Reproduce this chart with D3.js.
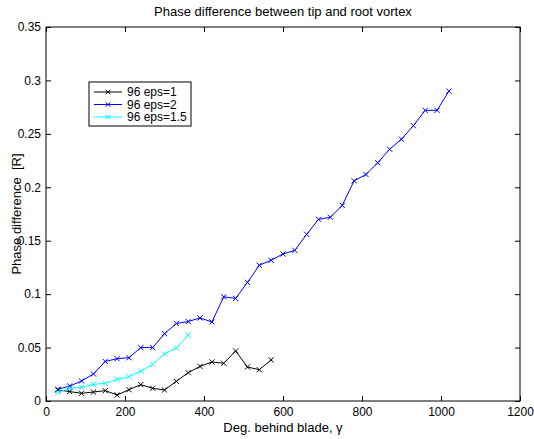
<!DOCTYPE html>
<html>
<head>
<meta charset="utf-8">
<script src="https://cdn.jsdelivr.net/npm/d3@7"></script>
<style>
  body { margin: 0; background: #fff; }
  text { font-family: "Liberation Sans", Arial, sans-serif; }
</style>
</head>
<body>
<script>
const m = {
  width: 534,
  height: 439,
  left: 46,
  right: 520,
  top: 27,
  bottom: 401
}

// x positions (degrees) of each series
const degBlack = [30, 60, 90, 120, 150, 180, 210, 240, 270, 300, 330, 360, 390, 420, 450, 480, 510, 540, 570];
const degBlue = [30, 60, 90, 120, 150, 180, 210, 240, 270, 300, 330, 360, 390, 420, 450, 480, 510,
  540, 570, 600, 630, 660, 690, 720, 750, 780, 810, 840, 870, 900, 930, 960, 990, 1020];
const degCyan = [30, 60, 90, 120, 150, 180, 210, 240, 270, 300, 330, 360];

const eps1 = [0.0103, 0.0088, 0.0072, 0.0084, 0.0097, 0.0056, 0.0106, 0.0153, 0.0119, 0.0103, 0.0184, 0.0265,
  0.0324, 0.0365, 0.0353, 0.0468, 0.0318, 0.0293, 0.0384];
const eps2 = [0.011, 0.014, 0.0187, 0.0253, 0.037, 0.0396, 0.0405, 0.050, 0.050, 0.063, 0.0725, 0.0744,
  0.0777, 0.0740, 0.0975, 0.0960, 0.111, 0.127, 0.1317, 0.1376, 0.141, 0.156, 0.170, 0.172,
  0.183, 0.206, 0.212, 0.223, 0.2356, 0.245, 0.2577, 0.272, 0.272, 0.290];
const eps15 = [0.008, 0.0119, 0.0128, 0.0156, 0.0165, 0.0203, 0.0228, 0.028, 0.0343, 0.044, 0.0496, 0.0618];

const xTicks = [0, 200, 400, 600, 800, 1000, 1200];
const yTicks = [0, 0.05, 0.1, 0.15, 0.2, 0.25, 0.3, 0.35];

const series = [
  { name: "96 eps=1", color: "#000000", x: degBlack, y: eps1 },
  { name: "96 eps=2", color: "#0000ff", x: degBlue, y: eps2 },
  { name: "96 eps=1.5", color: "#00ffff", x: degCyan, y: eps15 }
];

let svg = d3.select("body")
  .append("svg")
  .attr("width", m.width)
  .attr("height", m.height);

let x = d3.scaleLinear().domain([0, 1200]).range([m.left, m.right]);
let y = d3.scaleLinear().domain([0, 0.35]).range([m.bottom, m.top]);

// axes, ticks pointing inward
svg.append("g")
  .attr("transform", `translate(0,${m.bottom})`)
  .call(d3.axisBottom(x).tickValues(xTicks).tickSizeInner(-5).tickSizeOuter(0).tickPadding(6).tickFormat(d3.format("d")));
svg.append("g")
  .attr("transform", `translate(0,${m.top})`)
  .call(d3.axisTop(x).tickValues(xTicks).tickSizeInner(-5).tickSizeOuter(0).tickFormat(""));
svg.append("g")
  .attr("transform", `translate(${m.left},0)`)
  .call(d3.axisLeft(y).tickValues(yTicks).tickSizeInner(-5).tickSizeOuter(0).tickPadding(5).tickFormat(d => d === 0 ? "0" : String(d)));
svg.append("g")
  .attr("transform", `translate(${m.right},0)`)
  .call(d3.axisRight(y).tickValues(yTicks).tickSizeInner(-5).tickSizeOuter(0).tickFormat(""));

svg.selectAll(".domain").remove();
svg.selectAll(".tick line").attr("stroke", "#000");
svg.selectAll(".tick text").attr("font-size", 12).attr("fill", "#000")
  .attr("font-family", "Liberation Sans, Arial, sans-serif");

svg.append("rect")
  .attr("x", m.left).attr("y", m.top)
  .attr("width", m.right - m.left).attr("height", m.bottom - m.top)
  .attr("fill", "none").attr("stroke", "#000").attr("stroke-width", 1);

// series
let line = d3.line().x(d => x(d[0])).y(d => y(d[1]));
let marks = svg.append("g");
series.forEach(s => {
  let pts = s.x.map((v, i) => [v, s.y[i]]);
  marks.append("path")
    .attr("d", line(pts))
    .attr("fill", "none")
    .attr("stroke", s.color)
    .attr("stroke-width", 1);
  marks.selectAll(null)
    .data(pts)
    .enter()
    .append("path")
    .attr("d", d => {
      let cx = x(d[0]), cy = y(d[1]), r = 2.6;
      return `M${cx - r},${cy - r}L${cx + r},${cy + r}M${cx - r},${cy + r}L${cx + r},${cy - r}`;
    })
    .attr("stroke", s.color)
    .attr("stroke-width", 1);
});

// legend
let lg = svg.append("g").attr("transform", "translate(89,82)");
lg.append("rect")
  .attr("width", 102).attr("height", 44)
  .attr("fill", "#fff").attr("stroke", "#000");
series.forEach((s, i) => {
  let ly = 10 + i * 12.5;
  lg.append("line")
    .attr("x1", 5).attr("x2", 33).attr("y1", ly).attr("y2", ly)
    .attr("stroke", s.color);
  lg.append("path")
    .attr("d", `M16.5,${ly - 2.2}L21.5,${ly + 2.2}M16.5,${ly + 2.2}L21.5,${ly - 2.2}`)
    .attr("stroke", s.color);
  lg.append("text")
    .attr("x", 38).attr("y", ly + 4)
    .attr("font-size", 12)
    .text(s.name);
});

// labels
svg.append("text")
  .attr("x", (m.left + m.right) / 2).attr("y", 16)
  .attr("text-anchor", "middle").attr("font-size", 13)
  .text("Phase difference between tip and root vortex");

svg.append("text")
  .attr("x", (m.left + m.right) / 2).attr("y", 432)
  .attr("text-anchor", "middle").attr("font-size", 13)
  .text("Deg. behind blade, γ");

svg.append("text")
  .attr("transform", `translate(21,${(m.top + m.bottom) / 2}) rotate(-90)`)
  .attr("text-anchor", "middle").attr("font-size", 13)
  .attr("xml:space", "preserve")
  .text("Phase difference  [R]");
</script>
</body>
</html>
